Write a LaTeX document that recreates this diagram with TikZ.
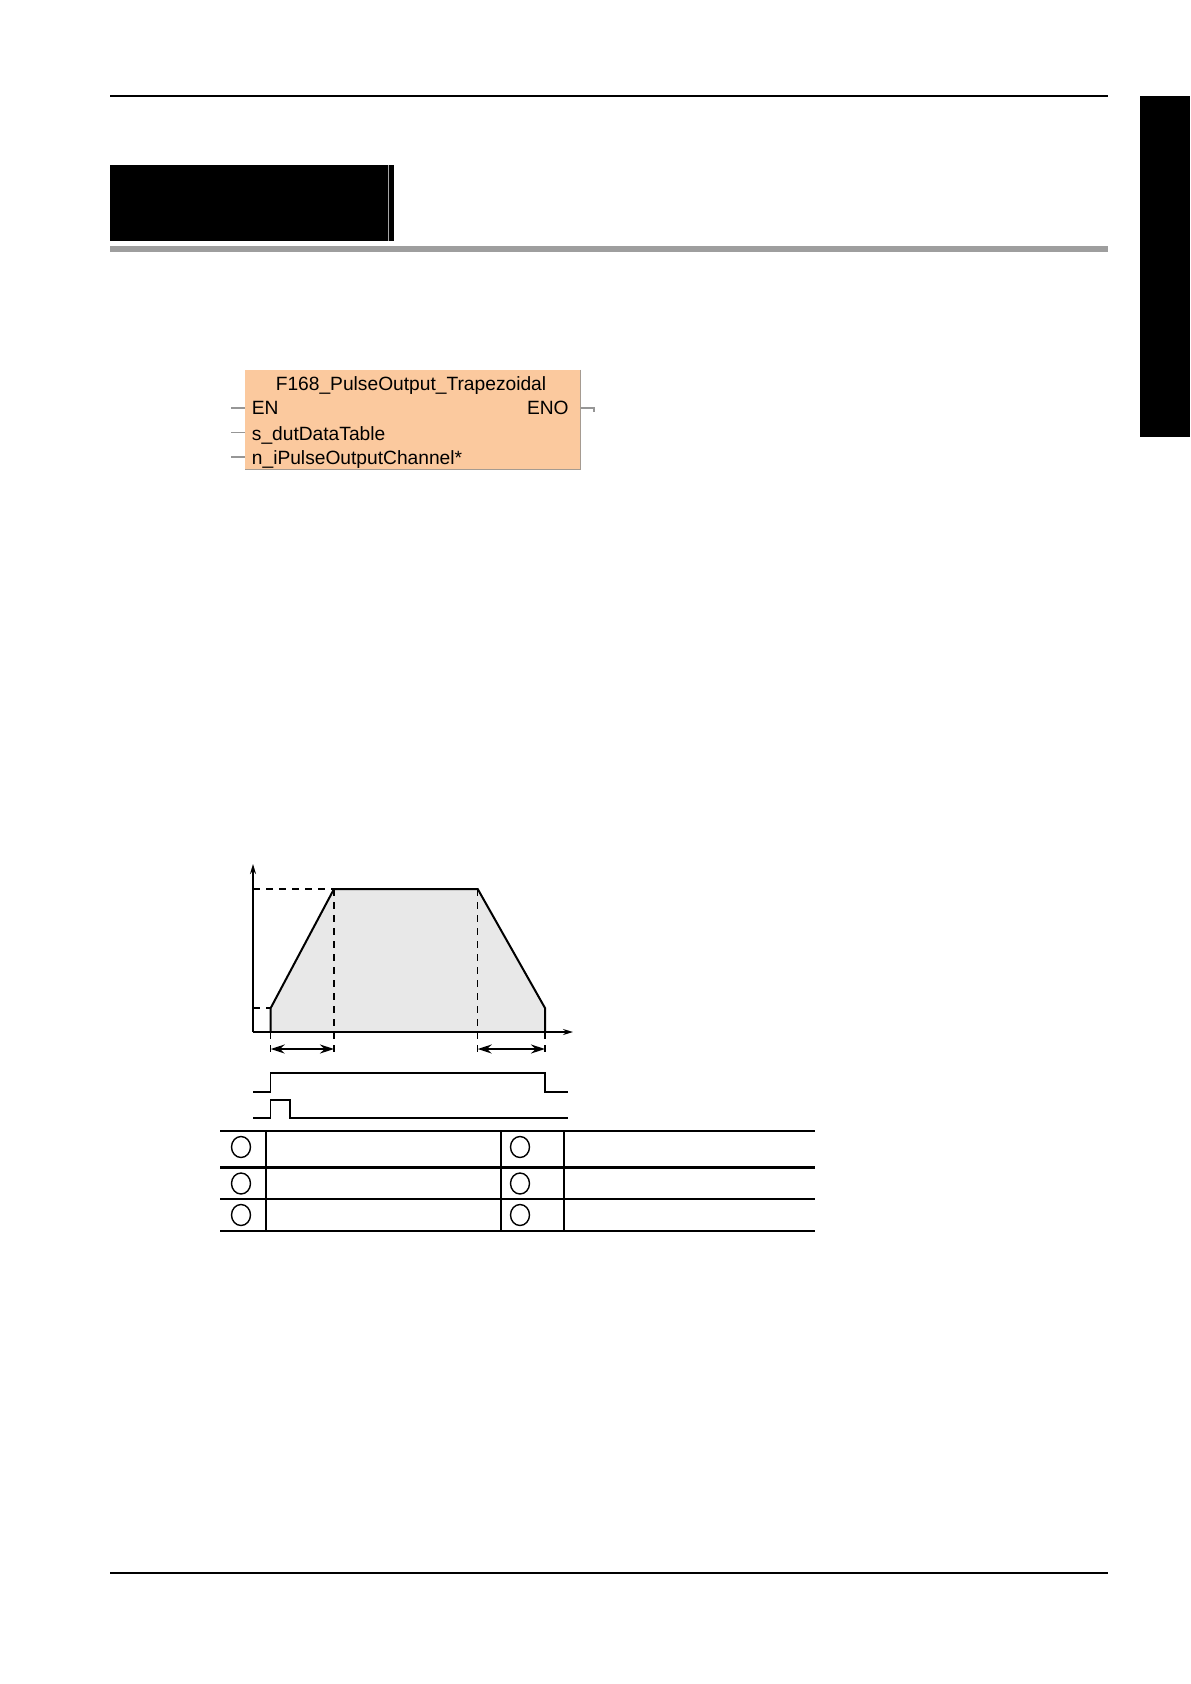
\documentclass[tikz,border=0pt]{standalone}
\usepackage{fontspec}
\newfontfamily\arialf{Liberation Sans}
\usetikzlibrary{arrows.meta}
\definecolor{fbfill}{RGB}{251,201,158}
\definecolor{fbedge}{RGB}{165,155,145}
\definecolor{chartfill}{RGB}{232,232,232}
\definecolor{barg}{RGB}{158,158,158}
\definecolor{stubg}{RGB}{150,150,150}
\begin{document}
\begin{tikzpicture}[x=0.5pt,y=-0.5pt,
  rule/.style={line width=0.75pt,black},
  fbtext/.style={font=\arialf\fontsize{9.6pt}{11pt}\selectfont,inner sep=0pt,text=black},
  stub/.style={stubg,line width=0.6pt},
  curve/.style={line width=1pt,black,line join=miter},
  axis/.style={line width=0.75pt,black,-{Stealth[length=5pt,width=3pt]}},
  dim/.style={line width=0.6pt,black,dash pattern=on 3.5pt off 3pt},
  span/.style={line width=0.8pt,black,{Stealth[length=7pt,width=4.5pt]}-{Stealth[length=7pt,width=4.5pt]}},
  sig/.style={line width=0.75pt,black},
  trow/.style={line width=1.1pt,black},
  trowthin/.style={line width=0.75pt,black},
  tcol/.style={line width=1pt,black},
  circ/.style={ellipse,draw=black,line width=0.7pt,minimum width=9.5pt,minimum height=10.5pt,inner sep=0pt}]
\usetikzlibrary{shapes.geometric}
\useasboundingbox (0,0) rectangle (1190,1684);
\fill[white] (0,0) rectangle (1190,1684);

% ---------- page header ----------
\draw[rule] (110,96) -- (1108,96);
\fill[black] (110,165) rectangle (394,241);
\draw[gray!70,line width=0.5pt] (388.5,165) -- (388.5,241);
\fill[barg] (110,246) rectangle (1108,252);
\fill[black] (1140,96) rectangle (1190,437);
\draw[rule] (110,1573) -- (1108,1573);

% ---------- function block ----------
\node (fb) [fill=fbfill,draw=none,anchor=north west,inner sep=0pt,
  minimum width=167.5pt,minimum height=49.5pt] at (245,370) {};
\draw[fbedge,line width=0.6pt] (fb.north east) -- (fb.south east) -- (fb.south west);
\node (title) [fbtext,anchor=base] at (411,390.5) {F168\_PulseOutput\_Trapezoidal};
\node (en) [fbtext,anchor=base west] at (251.5,415) {EN};
\node (dut) [fbtext,anchor=base west] at (251.5,440) {s\_dutDataTable};
\node (chan) [fbtext,anchor=base west] at (251.5,464.5) {n\_iPulseOutputChannel*};
\node (eno) [fbtext,anchor=base east] at (569,415) {ENO};
\coordinate (inEN) at (231,408);
\coordinate (inDUT) at (231,432.5);
\coordinate (inCH) at (231,457);
\coordinate (outENO) at (594,408);
\draw[stub] (inEN) -- (inEN -| fb.west);
\draw[stub] (inDUT) -- (inDUT -| fb.west);
\draw[stub] (inCH) -- (inCH -| fb.west);
\draw[stub] (outENO -| fb.east) -- (outENO) -- ++(0,4);

% ---------- trapezoid chart ----------
\coordinate (O) at (253,1032);
\coordinate (ytop) at (253,864);
\coordinate (xend) at (573,1032);
\coordinate (a0) at (270.7,1032);
\coordinate (a1) at (270.7,1008);
\coordinate (a2) at (334,889);
\coordinate (a3) at (477.7,889);
\coordinate (a4) at (545,1008);
\coordinate (a5) at (545,1032);
\fill[chartfill] (a0) -- (a1) -- (a2) -- (a3) -- (a4) -- (a5) -- cycle;
\draw[dim] (O |- a2) -- (a2);
\draw[dim] (O |- a1) -- (a1);
\draw[dim] (a2) -- (334,1053);
\draw[dim] (a3) -- (477.7,1053);
\draw[dim] (a0) -- (270.7,1053);
\draw[dim] (a5) -- (545,1053);
\draw[axis] (O) -- (ytop);
\draw[axis] (O) -- (xend);
\draw[curve] (a0) -- (a1) -- (a2) -- (a3) -- (a4) -- (a5);
\draw[span] (270.7,1049) -- (334,1049);
\draw[span] (477.7,1049) -- (545,1049);

% signals
\draw[sig] (253,1092) -- (270.7,1092) -- (270.7,1073) -- (545,1073) -- (545,1092) -- (568,1092);
\draw[sig] (253,1118) -- (270.7,1118) -- (270.7,1100) -- (290,1100) -- (290,1118) -- (568,1118);

% ---------- table ----------
\draw[trow] (220,1131) -- (815,1131);
\draw[trow] (220,1167.5) -- (815,1167.5);
\draw[trowthin] (220,1199) -- (815,1199);
\draw[trowthin] (220,1231) -- (815,1231);
\draw[tcol] (266,1131) -- (266,1231);
\draw[tcol] (501,1131) -- (501,1231);
\draw[tcol] (564,1131) -- (564,1231);
\node (c1) [circ] at (241,1147) {};
\node (c2) [circ] at (241,1183.5) {};
\node (c3) [circ] at (241,1215) {};
\node (c4) [circ] at (520,1147) {};
\node (c5) [circ] at (520,1183.5) {};
\node (c6) [circ] at (520,1215) {};
\end{tikzpicture}
\end{document}
